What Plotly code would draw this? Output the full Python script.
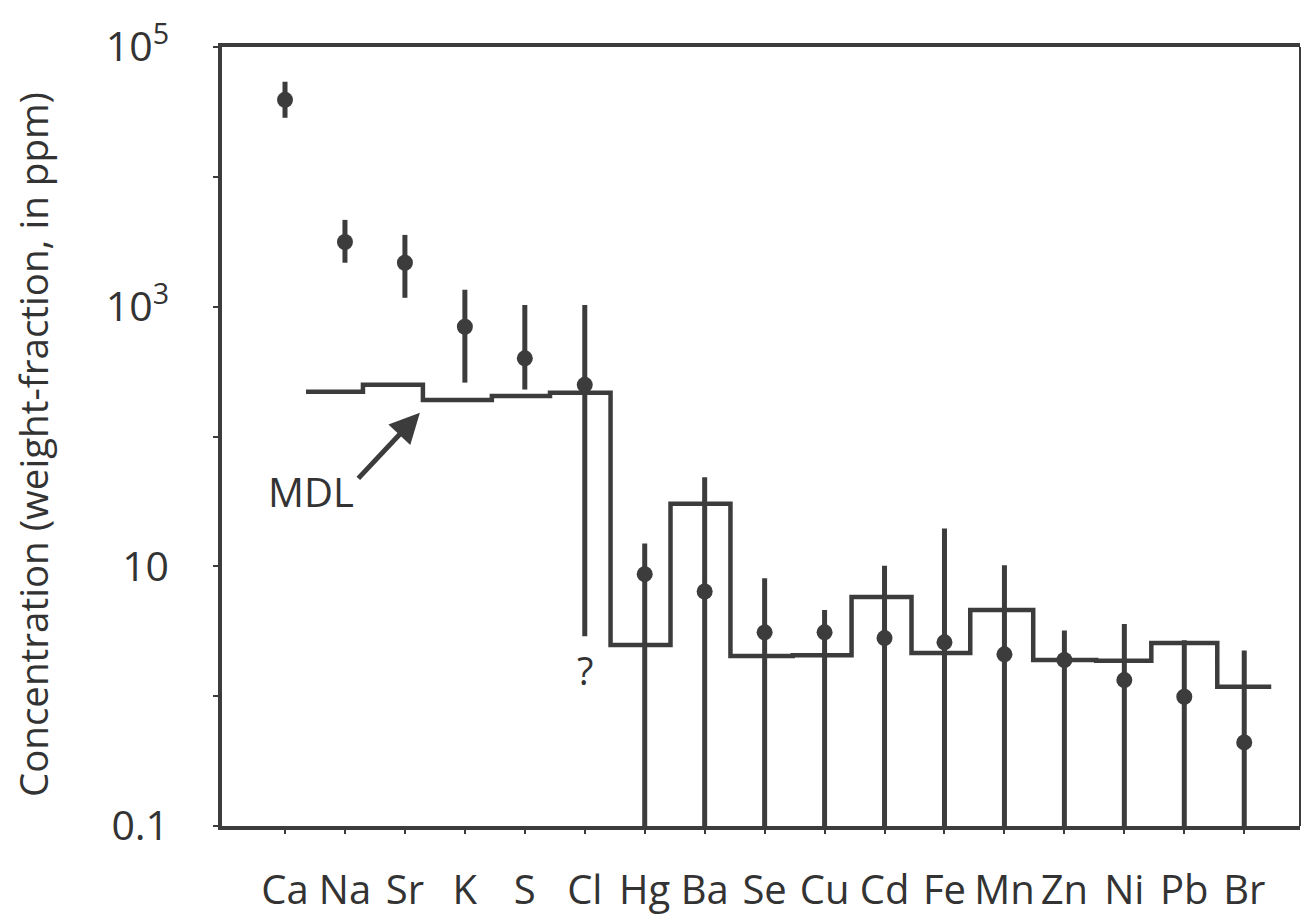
import plotly.graph_objects as go

# Elements measured, in plotting order
elements = ["Ca", "Na", "Sr", "K", "S", "Cl", "Hg", "Ba", "Se",
            "Cu", "Cd", "Fe", "Mn", "Zn", "Ni", "Pb", "Br"]

# Measured concentration (ppm) with upper / lower uncertainty limits
conc = [39200, 3150, 2180, 700, 400, 250, 8.7, 6.4, 3.1,
        3.1, 2.8, 2.6, 2.1, 1.9, 1.33, 0.99, 0.44]
conc_hi = [54000, 4660, 3570, 1350, 1030, 1030, 15.0, 48.5, 8.1,
           4.6, 10.1, 19.6, 10.2, 3.2, 3.6, 2.7, 2.25]
conc_lo = [28500, 2180, 1170, 260, 230, 2.9, 0.1, 0.1, 0.1,
           0.1, 0.1, 0.1, 0.1, 0.1, 0.1, 0.1, 0.1]

# Minimum detection limit (ppm), one step per element from Na to Br,
# with the step boundaries given in category units
mdl = [221, 250, 191, 205, 217, 2.48, 30.3, 2.04, 2.07,
       5.8, 2.15, 4.6, 1.9, 1.87, 2.57, 1.18]
mdl_edges = [0.35, 1.3, 2.3, 3.45, 4.42, 5.43, 6.43, 7.43, 8.47,
             9.45, 10.45, 11.43, 12.48, 13.53, 14.45, 15.55, 16.45]

y_tick_vals = [0.1, 10, 1e3, 1e5]
y_tick_text = ["0.1", "10", "10<sup>3</sup>", "10<sup>5</sup>"]

INK = "#3c3c3c"
TEXT = "#333333"
FONT = "Open Sans"

x_idx = list(range(len(elements)))

fig = go.Figure()

# MDL step line
fig.add_trace(go.Scatter(
    x=mdl_edges,
    y=mdl + [mdl[-1]],
    mode="lines",
    line=dict(shape="hv", color=INK, width=4.5),
    hoverinfo="skip",
    showlegend=False,
))

# Measured values with asymmetric uncertainty bars
fig.add_trace(go.Scatter(
    x=x_idx,
    y=conc,
    mode="markers",
    marker=dict(size=16, color=INK),
    error_y=dict(
        type="data",
        symmetric=False,
        array=[h - c for h, c in zip(conc_hi, conc)],
        arrayminus=[c - l for c, l in zip(conc, conc_lo)],
        color=INK,
        thickness=5,
        width=0,
    ),
    showlegend=False,
))

fig.update_layout(
    width=1303,
    height=921,
    margin=dict(l=222, r=3, t=47, b=95),
    paper_bgcolor="white",
    plot_bgcolor="white",
    font=dict(family=FONT, color=TEXT),
    xaxis=dict(
        range=[-1.051, 16.93],
        tickmode="array",
        tickvals=x_idx,
        ticktext=elements,
        ticks="outside",
        ticklen=4,
        tickwidth=2,
        tickcolor=INK,
        tickfont=dict(size=40, family=FONT, color=TEXT),
        ticklabelstandoff=22,
        showline=True,
        linecolor=INK,
        linewidth=3.5,
        mirror=True,
        showgrid=False,
        zeroline=False,
    ),
    yaxis=dict(
        type="log",
        range=[-1, 5],
        tickmode="array",
        tickvals=y_tick_vals,
        ticktext=y_tick_text,
        ticks="outside",
        ticklen=5,
        tickwidth=2,
        tickcolor=INK,
        tickfont=dict(size=41, family=FONT, color=TEXT),
        ticklabelstandoff=36,
        minor=dict(ticks="outside", dtick=1, ticklen=5, tickwidth=2,
                   tickcolor=INK, showgrid=False),
        showline=True,
        linecolor=INK,
        linewidth=3.5,
        mirror=False,
        showgrid=False,
        zeroline=False,
    ),
    shapes=[
        dict(type="line", xref="paper", yref="paper", x0=1, x1=1, y0=0, y1=1,
             line=dict(color=INK, width=2)),
    ],
    # annotation positions on the log axis are given in log10 units
    annotations=[
        dict(text="Concentration (weight-fraction, in ppm)",
             xref="paper", yref="paper", x=-0.1755, y=0.49,
             textangle=-90, showarrow=False,
             xanchor="center", yanchor="middle",
             font=dict(size=38.5, family=FONT, color=TEXT)),
        dict(text="MDL", x=0.43, y=1.573, xref="x", yref="y",
             showarrow=False,
             font=dict(size=40, family=FONT, color=TEXT)),
        dict(text="", x=2.25, y=2.182, xref="x", yref="y",
             showarrow=True, ax=-63, ay=67, arrowhead=2, arrowsize=1.2,
             arrowwidth=5, arrowcolor=INK),
        dict(text="?", x=5.0, y=0.202, xref="x", yref="y", showarrow=False,
             font=dict(size=38, family=FONT, color=TEXT)),
    ],
)

fig.write_html("out.html")
